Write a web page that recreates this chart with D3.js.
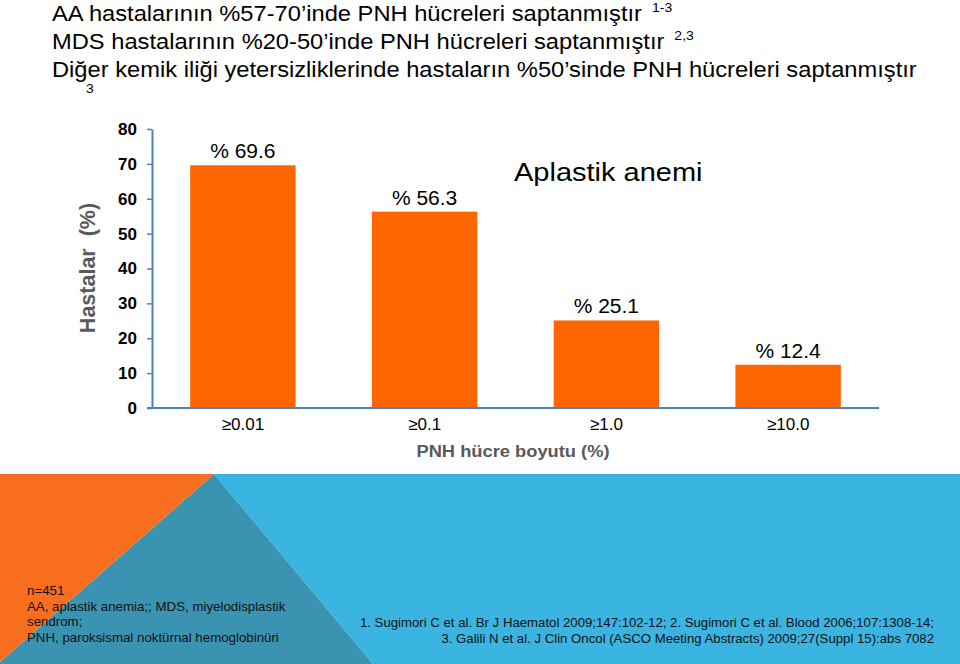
<!DOCTYPE html>
<html>
<head>
<meta charset="utf-8">
<script src="https://cdn.jsdelivr.net/npm/d3@7"></script>
<style>
  html, body { margin: 0; padding: 0; background: #fff; }
  svg { display: block; }
  text { font-family: "Liberation Sans", Arial, sans-serif; }
</style>
</head>
<body>
<svg id="chart" width="960" height="664"></svg>
<script>
// ---- data ----
const categories = ["\u22650.01", "\u22650.1", "\u22651.0", "\u226510.0"];
const values = [69.6, 56.3, 25.1, 12.4];
const valueLabels = ["% 69.6", "% 56.3", "% 25.1", "% 12.4"];
const yTicks = [0, 10, 20, 30, 40, 50, 60, 70, 80];
const titleLines = [
  { text: "AA hastalar\u0131n\u0131n %57-70\u2019inde PNH h\u00fccreleri saptanm\u0131\u015ft\u0131r", sup: "1-3" },
  { text: "MDS hastalar\u0131n\u0131n %20-50\u2019inde PNH h\u00fccreleri saptanm\u0131\u015ft\u0131r", sup: "2,3" },
  { text: "Di\u011fer kemik ili\u011fi yetersizliklerinde hastalar\u0131n %50\u2019sinde PNH h\u00fccreleri saptanm\u0131\u015ft\u0131r", sup: "" }
];
const footLeft = [
  "n=451",
  "AA, aplastik anemia;; MDS, miyelodisplastik",
  "sendrom;",
  "PNH, paroksismal nokt\u00fcrnal hemoglobin\u00fcri"
];
const footRefs = [
  "1. Sugimori C et al. Br J Haematol 2009;147:102-12; 2. Sugimori C et al. Blood 2006;107:1308-14;",
  "3. Galili N et al. J Clin Oncol (ASCO Meeting Abstracts) 2009;27(Suppl 15):abs 7082"
];

const SQ = 0.92; // slide is vertically squeezed
const svg = d3.select("#chart");
function txt(x, y, s, size) {
  return svg.append("text")
    .attr("transform", `translate(${x},${y}) scale(1,${SQ})`)
    .attr("font-size", size).text(s);
}

// ---- bottom decorative band ----
const bandTop = 474;
svg.append("polygon").attr("points", `214,${bandTop} 960,${bandTop} 960,664 373,664`).attr("fill", "#3AB4E1");
svg.append("polygon").attr("points", `214,${bandTop} 373,664 0,664 0,662`).attr("fill", "#3A93B1");
svg.append("polygon").attr("points", `0,${bandTop} 214,${bandTop} 0,662`).attr("fill", "#F76E1E");

// ---- titles ----
const titleY = [21, 49, 77];
titleLines.forEach((l, i) => {
  const t = txt(52, titleY[i], l.text, 23.7).attr("fill", "#000");
  if (l.sup) {
    const w = t.node().getComputedTextLength();
    txt(52 + w + 10, titleY[i] - 9, l.sup, 14);
  }
});
txt(86, 93, "3", 14);

// ---- chart ----
const x = d3.scaleBand().domain(categories).range([152, 879]).paddingInner(0.42).paddingOuter(0.21);
const y = d3.scaleLinear().domain([0, 80]).range([408, 129]);
const axisColor = "#4F81BD";

svg.selectAll("rect.bar").data(values).join("rect")
  .attr("class", "bar")
  .attr("x", (d, i) => x(categories[i]))
  .attr("y", d => y(d))
  .attr("width", x.bandwidth())
  .attr("height", d => y(0) - y(d))
  .attr("fill", "#FF6600");

svg.selectAll("text.vlab").data(values).join("text")
  .attr("class", "vlab")
  .attr("transform", (d, i) => `translate(${x(categories[i]) + x.bandwidth() / 2},${y(d) - 7}) scale(1,${SQ})`)
  .attr("text-anchor", "middle")
  .attr("font-size", 21)
  .text((d, i) => valueLabels[i]);

const yAxis = svg.append("g").attr("transform", "translate(152,0)")
  .call(d3.axisLeft(y).tickValues(yTicks).tickSize(5).tickSizeOuter(0).tickPadding(10).tickFormat(d3.format("d")));
yAxis.select(".domain").attr("stroke", axisColor).attr("stroke-width", 2);
yAxis.selectAll(".tick line").attr("stroke", axisColor).attr("stroke-width", 1.5);
yAxis.selectAll(".tick text").attr("font-family", "Lato, 'Open Sans', sans-serif")
  .attr("font-weight", "900").attr("font-size", 17).attr("fill", "#000");

const xAxis = svg.append("g").attr("transform", "translate(0,408)")
  .call(d3.axisBottom(x).tickSize(0).tickSizeOuter(0).tickPadding(10));
xAxis.select(".domain").attr("stroke", axisColor).attr("stroke-width", 2).attr("d", "M147,0H879");
xAxis.selectAll(".tick text").attr("font-family", "'Liberation Sans', Arial, sans-serif")
  .attr("font-size", 17).attr("fill", "#000");

txt(513, 457, "PNH h\u00fccre boyutu (%)", 18.3)
  .attr("text-anchor", "middle").attr("font-weight", "bold").attr("fill", "#595959");

svg.append("text").attr("transform", "translate(95,268) rotate(-90)")
  .attr("text-anchor", "middle").attr("font-size", 21.5).attr("font-weight", "bold").attr("fill", "#595959")
  .style("white-space", "pre")
  .text("Hastalar  (%)");

txt(514, 181, "Aplastik anemi", 29).attr("fill", "#000");

// ---- footnotes ----
const leftY = [595, 611, 626, 642];
footLeft.forEach((s, i) => {
  txt(27, leftY[i], s, 13.3).attr("fill", "#111");
});
const refY = [627, 643];
footRefs.forEach((s, i) => {
  txt(934, refY[i], s, 13.2).attr("text-anchor", "end").attr("fill", "#111");
});
</script>
</body>
</html>
